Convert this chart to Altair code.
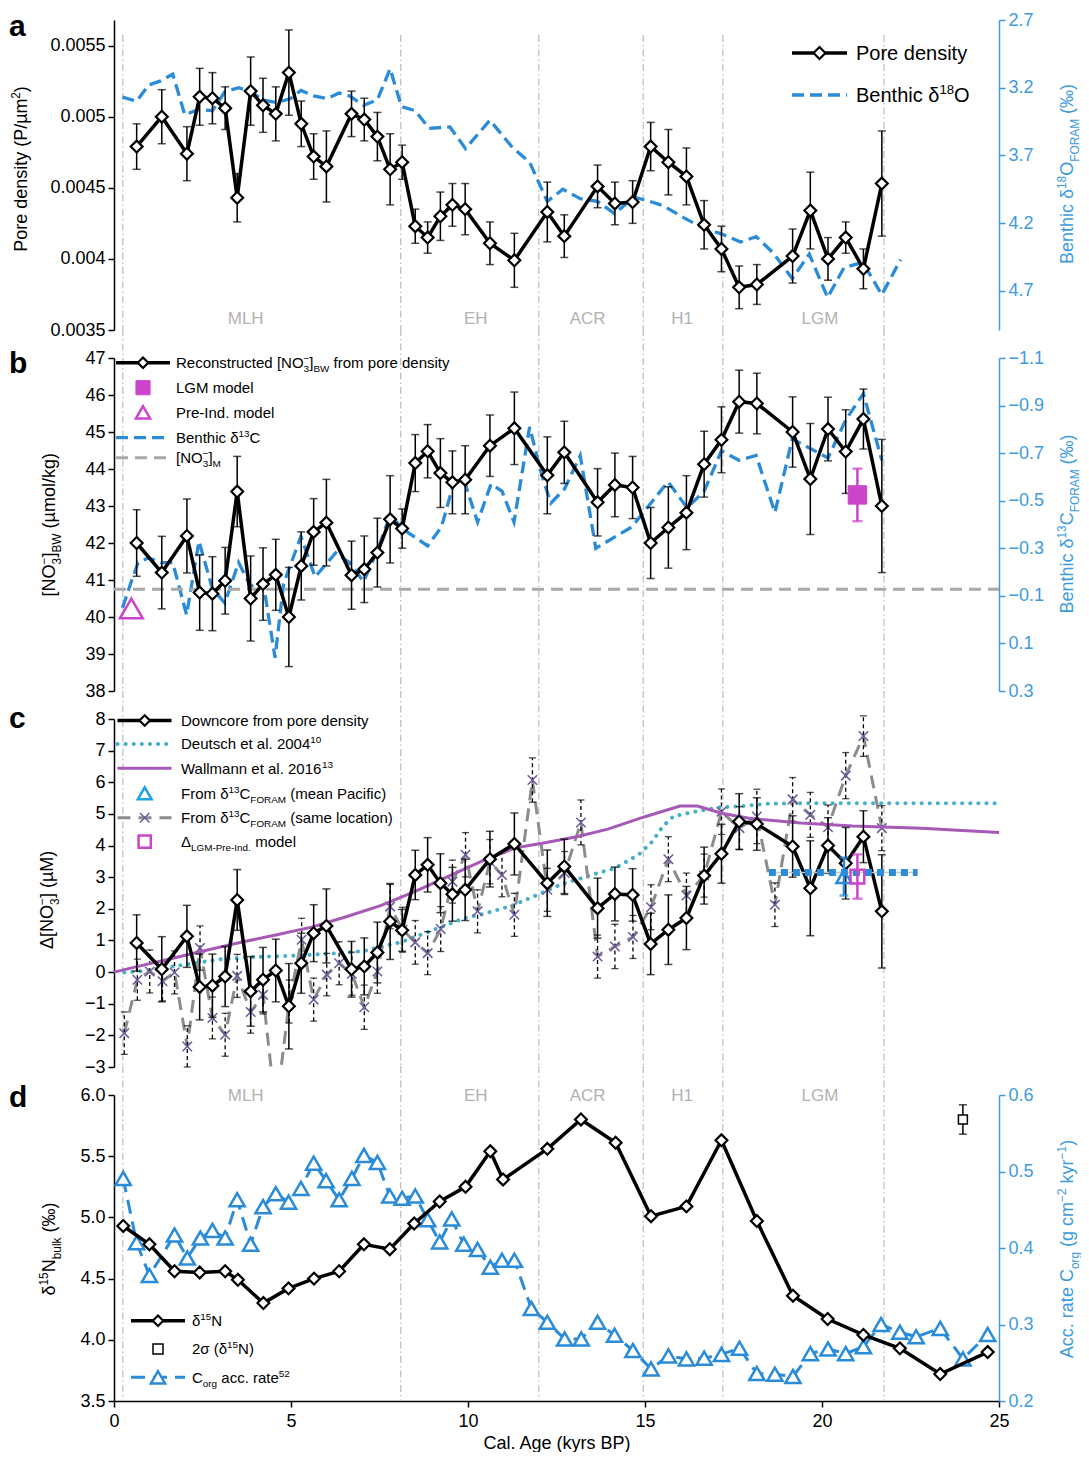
import altair as alt
import pandas as pd

FONT = "Liberation Sans"

# ---------------- Panel a ----------------
ages = [0.64, 1.35, 2.06, 2.42, 2.78, 3.14, 3.48, 3.86, 4.21, 4.57,
        4.94, 5.29, 5.64, 6.00, 6.71, 7.07, 7.44, 7.80, 8.14, 8.51,
        8.86, 9.22, 9.56, 9.92, 10.62, 11.31, 12.24, 12.72, 13.66, 14.15,
        14.65, 15.16, 15.66, 16.17, 16.67, 17.16, 17.66, 18.16, 19.17, 19.67,
        20.17, 20.67, 21.17, 21.69]
pore_density = [0.00479, 0.00500, 0.00474, 0.00514, 0.00513, 0.00506, 0.00443, 0.00518, 0.00508, 0.00502,
                0.00531, 0.00495, 0.00472, 0.00465, 0.00502, 0.00498, 0.00486, 0.00463, 0.00468, 0.00423,
                0.00415, 0.00430, 0.00438, 0.00435, 0.00411, 0.00399, 0.00433, 0.00416, 0.00451, 0.00439,
                0.00440, 0.00479, 0.00468, 0.00458, 0.00424, 0.00407, 0.00380, 0.00382, 0.00402, 0.00434,
                0.00400, 0.00415, 0.00393, 0.00453]
pore_density_err = [0.00016, 0.00019, 0.00019, 0.00020, 0.00018, 0.00015, 0.00017, 0.00024, 0.00019, 0.00019,
                    0.00030, 0.00016, 0.00016, 0.00025, 0.00016, 0.00015, 0.00017, 0.00025, 0.00012, 0.00012,
                    0.00011, 0.00017, 0.00015, 0.00018, 0.00015, 0.00019, 0.00021, 0.00015, 0.00015, 0.00015,
                    0.00015, 0.00017, 0.00023, 0.00020, 0.00017, 0.00016, 0.00015, 0.00014, 0.00019, 0.00027,
                    0.00015, 0.00011, 0.00014, 0.00037]
d18o_age = [0.24, 0.64, 0.98, 1.32, 1.66, 2.0, 2.40, 2.78, 3.13, 3.52,
            3.87, 4.21, 4.60, 4.99, 5.28, 5.64, 6.02, 6.36, 6.65, 7.05,
            7.44, 7.80, 8.12, 8.51, 8.90, 9.49, 9.93, 10.62, 11.25, 11.74,
            12.24, 12.68, 13.17, 13.66, 14.14, 14.68, 15.02, 15.5, 16.09, 16.67,
            17.16, 17.7, 18.14, 18.62, 19.16, 19.64, 20.16, 20.62, 21.15, 21.69,
            22.22]
d18o = [3.27, 3.30, 3.18, 3.15, 3.10, 3.40, 3.36, 3.37, 3.23, 3.20,
        3.23, 3.29, 3.31, 3.28, 3.22, 3.26, 3.28, 3.24, 3.26, 3.33,
        3.29, 3.06, 3.34, 3.37, 3.50, 3.49, 3.65, 3.44, 3.64, 3.75,
        4.04, 3.95, 4.02, 4.04, 4.13, 4.01, 4.03, 4.07, 4.16, 4.24,
        4.28, 4.34, 4.30, 4.42, 4.61, 4.43, 4.75, 4.53, 4.49, 4.73,
        4.47]

# ---------------- Panel b ----------------
no3_bw = [42.0, 41.2, 42.19, 40.66, 40.63, 40.98, 43.39, 40.50, 40.89, 41.14,
          40.0, 41.38, 42.30, 42.55, 41.13, 41.29, 41.74, 42.64, 42.39, 44.16,
          44.48, 43.89, 43.64, 43.71, 44.63, 45.10, 43.83, 44.45, 43.10, 43.57,
          43.50, 42.0, 42.42, 42.82, 44.13, 44.79, 45.82, 45.77, 45.0, 43.73,
          45.08, 44.47, 45.35, 43.0]
no3_bw_err = [0.9, 0.98, 1.0, 1.02, 1.0, 0.9, 0.95, 1.15, 0.98, 0.96,
              1.34, 0.92, 0.9, 1.17, 0.92, 0.9, 0.93, 1.18, 0.53, 0.77,
              0.72, 0.93, 0.85, 0.92, 0.83, 0.98, 1.04, 0.84, 0.91, 0.86,
              0.84, 0.96, 1.1, 1.0, 0.89, 0.89, 0.85, 0.82, 0.95, 1.5,
              0.86, 1.13, 0.81, 1.8]
d13c_age = [0.24, 0.49, 0.68, 0.98, 1.32, 1.66, 2.05, 2.40, 2.78, 3.13,
            3.52, 3.86, 4.21, 4.55, 4.79, 5.28, 5.68, 6.26, 6.65, 7.05,
            7.44, 7.80, 8.17, 8.86, 9.25, 9.59, 9.88, 10.27, 10.65, 10.96,
            11.30, 11.74, 12.08, 12.34, 12.73, 13.17, 13.61, 14.63, 15.65, 16.19,
            16.67, 17.16, 17.65, 18.14, 18.67, 19.16, 20.17, 20.67, 21.17, 21.69]
d13c = [-0.05, -0.16, -0.24, -0.26, -0.24, -0.24, -0.02, -0.33, -0.13, -0.07,
        -0.24, -0.14, -0.16, 0.16, -0.15, -0.35, -0.18, -0.28, -0.24, -0.16,
        -0.29, -0.44, -0.38, -0.31, -0.39, -0.57, -0.59, -0.41, -0.57, -0.54,
        -0.41, -0.81, -0.61, -0.49, -0.55, -0.69, -0.30, -0.39, -0.58, -0.47,
        -0.54, -0.71, -0.67, -0.69, -0.45, -0.76, -0.68, -0.84, -0.95, -0.67]
lgm_model_age = [21.0]
lgm_model = [43.3]
lgm_model_err = [0.71]
preind_model_age = [0.49]
preind_model = [40.23]
no3_m_age = [0.0, 25.0]
no3_m = [40.75, 40.75]

# ---------------- Panel c ----------------
dno3 = [0.92, 0.09, 1.13, -0.47, -0.43, -0.14, 2.28, -0.61, -0.24, 0.05,
        -1.08, 0.28, 1.23, 1.46, 0.09, 0.18, 0.62, 1.6, 1.32, 3.07,
        3.39, 2.81, 2.46, 2.6, 3.57, 4.05, 2.81, 3.34, 2.02, 2.47,
        2.44, 0.89, 1.34, 1.71, 3.05, 3.74, 4.76, 4.68, 3.97, 2.65,
        4.0, 3.44, 4.28, 1.92]
dno3_err = [0.89, 1.03, 0.98, 1.04, 1.0, 0.95, 0.96, 1.1, 1.02, 0.99,
            1.35, 0.95, 0.9, 1.17, 0.88, 0.9, 0.96, 1.2, 0.66, 0.78,
            0.86, 0.93, 0.85, 0.97, 0.88, 0.98, 1.05, 0.86, 0.95, 0.85,
            0.83, 0.97, 1.1, 1.0, 0.9, 0.93, 0.88, 0.83, 0.97, 1.5,
            0.88, 1.13, 0.82, 1.79]
same_loc_age = [0.29, 0.66, 1.01, 1.37, 1.71, 2.07, 2.43, 2.78, 3.14, 3.48,
                3.86, 4.21, 4.57, 4.95, 5.30, 5.64, 6.01, 6.36, 6.72, 7.07,
                7.44, 7.80, 8.15, 8.51, 8.86, 9.23, 9.56, 9.93, 10.27, 10.62,
                10.96, 11.31, 11.82, 12.24, 12.73, 13.19, 13.66, 14.15, 14.66, 15.17,
                15.66, 16.17, 16.67, 17.16, 17.67, 18.16, 18.67, 19.17, 19.67, 20.17,
                20.67, 21.17, 21.69]
same_loc = [-1.93, -0.24, 0.02, -0.29, -0.01, -2.35, 0.76, -1.45, -1.98, -0.12,
            -1.26, -0.72, -4.4, -0.93, 1.02, -0.87, -0.08, 0.28, -0.05, -1.11,
            0.02, 2.07, 1.34, 0.94, 0.6, 1.36, 2.86, 3.71, 1.92, 3.49,
            3.07, 1.81, 6.07, 2.6, 3.13, 4.73, 0.49, 0.81, 1.11, 2.05,
            3.57, 2.42, 3.05, 5.07, 4.55, 4.92, 2.13, 5.46, 4.97, 4.58,
            6.21, 7.46, 4.55]
same_loc_err = [0.67, 0.65, 0.68, 0.62, 0.68, 0.65, 0.7, 0.66, 0.68, 0.68,
                0.67, 0.6, 0.65, 0.68, 0.68, 0.68, 0.67, 0.68, 0.68, 0.7,
                0.69, 0.7, 0.71, 0.69, 0.68, 0.71, 0.68, 0.7, 0.68, 0.7,
                0.69, 0.68, 0.7, 0.68, 0.68, 0.71, 0.68, 0.7, 0.68, 0.71,
                0.71, 0.71, 0.68, 0.72, 0.68, 0.86, 0.69, 0.69, 0.71, 0.7,
                0.73, 0.64, 0.71]
deutsch_age = [0.29, 0.98, 1.66, 2.25, 3.03, 3.82, 5.09, 6.07, 7.05, 7.53,
               8.12, 8.71, 9.3, 9.88, 10.47, 11.25, 12.08, 12.68, 13.07, 13.66,
               14.14, 14.82, 15.21, 15.5, 15.8, 16.19, 16.67, 17.16, 17.75, 18.43,
               19.4, 25.0]
deutsch = [-0.01, 0.05, 0.18, 0.28, 0.41, 0.47, 0.52, 0.58, 0.66, 0.8,
           0.95, 1.2, 1.45, 1.7, 1.85, 2.1, 2.5, 2.8, 2.92, 3.13,
           3.28, 3.71, 4.13, 4.6, 4.92, 5.02, 5.13, 5.21, 5.25, 5.32,
           5.34, 5.34]
wallmann_age = [0.0, 0.68, 1.66, 2.64, 3.62, 4.6, 5.58, 6.56, 7.53, 8.51,
                9.49, 10.47, 11.31, 12.1, 13.07, 13.95, 15.02, 15.99, 16.48, 17.16,
                17.94, 19.4, 20.86, 22.81, 25.0]
wallmann = [0.0, 0.18, 0.44, 0.7, 0.95, 1.18, 1.42, 1.75, 2.1, 2.55,
            3.05, 3.55, 3.92, 4.07, 4.28, 4.52, 4.92, 5.25, 5.25, 5.02,
            4.86, 4.71, 4.62, 4.55, 4.41]
pacific_age = [18.5, 22.7]
pacific = [3.15, 3.15]
pacific_pt_age = [20.62]
pacific_pt = [3.02]
pacific_pt_err = [0.6]
delta_model_age = [21.0]
delta_model = [3.02]
delta_model_err = [0.7]

# ---------------- Panel d ----------------
d15n_age = [0.26, 1.0, 1.71, 2.42, 3.14, 3.50, 4.22, 4.93, 5.65, 6.36,
            7.06, 7.79, 8.48, 9.20, 9.93, 10.63, 10.99, 12.24, 13.19, 14.17,
            15.17, 16.17, 17.16, 18.16, 19.18, 20.16, 21.17, 22.2, 23.34, 24.68]
d15n = [4.93, 4.78, 4.56, 4.55, 4.56, 4.49, 4.30, 4.42, 4.50, 4.56,
        4.78, 4.74, 4.95, 5.13, 5.25, 5.54, 5.31, 5.56, 5.80, 5.61,
        5.01, 5.09, 5.63, 4.97, 4.36, 4.17, 4.04, 3.93, 3.72, 3.90]
sigma_age = [23.98]
sigma_val = [5.80]
sigma_err = [0.12]
corg_age = [0.26, 0.64, 1.0, 1.71, 2.07, 2.44, 2.78, 3.14, 3.48, 3.86,
            4.21, 4.57, 4.93, 5.28, 5.64, 5.99, 6.36, 6.72, 7.06, 7.44,
            7.79, 8.14, 8.51, 8.86, 9.20, 9.54, 9.88, 10.27, 10.63, 10.96,
            11.31, 11.79, 12.24, 12.73, 13.2, 13.66, 14.14, 14.66, 15.17, 15.66,
            16.17, 16.67, 17.16, 17.67, 18.16, 18.67, 19.18, 19.67, 20.17, 20.67,
            21.17, 21.67, 22.2, 22.66, 23.34, 23.98, 24.68]
corg = [0.491, 0.407, 0.364, 0.417, 0.387, 0.413, 0.423, 0.413, 0.463, 0.405,
        0.454, 0.471, 0.460, 0.478, 0.511, 0.488, 0.463, 0.491, 0.521, 0.512,
        0.468, 0.465, 0.468, 0.437, 0.408, 0.438, 0.405, 0.398, 0.375, 0.384,
        0.384, 0.321, 0.303, 0.281, 0.281, 0.303, 0.286, 0.266, 0.242, 0.259,
        0.255, 0.256, 0.261, 0.269, 0.236, 0.235, 0.232, 0.262, 0.268, 0.262,
        0.271, 0.300, 0.290, 0.284, 0.295, 0.255, 0.287]

# ---------------- periods ----------------
boundary_age = [0.25, 8.1, 12.0, 14.95, 17.2, 21.75]
period_names = ["MLH", "EH", "ACR", "H1", "LGM"]
period_age = [3.72, 10.22, 13.38, 16.05, 19.94]

# ---------------- style ----------------
W = 885
RT = W + 68          # centre of the right-hand rotated titles
H_A, H_B, H_C, H_D = 310, 333, 348, 306
BLUE = "#2a8bd8"
BLUE_AX = "#3d9be0"
TEAL = "#45b0ca"
PURPLE = "#a659b6"
MAGENTA = "#cc44cc"
XPURPLE = "#6e5a9c"
GRAY_DASH = "#8c8c8c"
GRAY_M = "#a9a9a9"
GRAY_LAB = "#b2b2b2"
VLINE = "#bdbdbd"
XSHAPE = "M-1,-1L1,1M-1,1L1,-1"

ONE = pd.DataFrame({"k": [0]})
XS = alt.Scale(domain=[0, 25], nice=False, zero=False)

YA = alt.Scale(domain=[0.0035, 0.00568], nice=False, zero=False)
YA2 = alt.Scale(domain=[2.7, 4.99], nice=False, zero=False, reverse=True)
YB = alt.Scale(domain=[38, 47], nice=False, zero=False)
YB2 = alt.Scale(domain=[-1.1, 0.3], nice=False, zero=False, reverse=True)
YC = alt.Scale(domain=[-3, 8], nice=False, zero=False)
YD = alt.Scale(domain=[3.5, 6.0], nice=False, zero=False)
YD2 = alt.Scale(domain=[0.2, 0.6], nice=False, zero=False)

AFM = {' ': 278, '(': 333, ')': 333, '[': 278, ']': 278, '.': 278, ',': 278, '-': 333, '/': 278,
       'A': 667, 'B': 667, 'C': 722, 'D': 722, 'E': 667, 'F': 611, 'G': 778, 'H': 722, 'I': 278,
       'J': 500, 'K': 667, 'L': 556, 'M': 833, 'N': 722, 'O': 778, 'P': 667, 'Q': 778, 'R': 722,
       'S': 667, 'T': 611, 'U': 722, 'V': 667, 'W': 944, 'X': 667, 'Y': 667, 'Z': 611,
       'a': 556, 'b': 556, 'c': 500, 'd': 556, 'e': 556, 'f': 278, 'g': 556, 'h': 556, 'i': 222,
       'j': 222, 'k': 500, 'l': 222, 'm': 833, 'n': 556, 'o': 556, 'p': 556, 'q': 556, 'r': 333,
       's': 500, 't': 278, 'u': 556, 'v': 500, 'w': 722, 'x': 500, 'y': 500, 'z': 500,
       'µ': 556, 'δ': 556, 'Δ': 667, 'σ': 617, '‰': 1000, '−': 584}


def tw(s, fs):
    return sum(AFM.get(c, 556) for c in s) * fs / 1000.0


def rich(pieces, x, y, fs, color="black", rotate=False, center=False, small=0.66):
    items = []
    pos = 0.0

    def add(s, shift, size):
        lead = len(s) - len(s.lstrip(" "))
        body = s.strip(" ")
        if body:
            items.append((body, pos + tw(" " * lead, size), shift, size))

    for s, kind in pieces:
        if kind == "n":
            add(s, 0.0, fs)
            pos += tw(s, fs)
        elif kind == "sub":
            add(s, 0.3 * fs, fs * small)
            pos += tw(s, fs * small)
        elif kind == "sup":
            add(s, -0.4 * fs, fs * small)
            pos += tw(s, fs * small)
        else:
            a, b = s
            add(a, 0.3 * fs, fs * small)
            add(b, -0.4 * fs, fs * small)
            pos += max(tw(a, fs * small), tw(b, fs * small))
    start = -pos / 2.0 if center else 0.0
    out = []
    for s, along, shift, size in items:
        if rotate:
            px, py, ang = x + shift, y - (start + along), 270
        else:
            px, py, ang = x + start + along, y + shift, 0
        out.append(alt.Chart(ONE).mark_text(text=s, x=px, y=py, fontSize=size, color=color, font=FONT,
                                            align="left", baseline="alphabetic", angle=ang))
    return out


def vtitle(pieces, cx, cy, color="black", fs=18):
    return rich(pieces, cx + 0.36 * fs, cy, fs, color=color, rotate=True, center=True)


def legend_text(pieces, x, cy, fs=15):
    return rich(pieces, x, cy + 0.35 * fs, fs)


def letter(s, y):
    return alt.Chart(ONE).mark_text(text=s, x=-105, y=y, fontSize=30, fontWeight="bold", font=FONT,
                                    align="left", baseline="alphabetic", color="black")


def ax(orient, values, fmt, color="black"):
    return alt.Axis(orient=orient, values=values, format=fmt, title=None, grid=False,
                    domainColor=color, tickColor=color, labelColor=color, labelFont=FONT,
                    labelFontSize=18, tickSize=6, domainWidth=1.5, tickWidth=1.5, labelPadding=3,
                    labelFlush=False)


def df_of(t, v, e=None):
    d = pd.DataFrame({"t": t, "v": v})
    if e is not None:
        d["lo"] = [a - b for a, b in zip(v, e)]
        d["hi"] = [a + b for a, b in zip(v, e)]
    return d


class Panel:
    """holds the x axis (or None) shared by every layer of one panel"""
    def __init__(self, xa=None):
        self.xa = xa

    def X(self):
        return alt.X("t:Q", scale=XS, axis=self.xa)

    def line(self, df, ys, ya, color, width, dash=None, clip=False, cap="butt"):
        kw = dict(color=color, strokeWidth=width, clip=clip, strokeCap=cap)
        if dash:
            kw["strokeDash"] = dash
        return alt.Chart(df).mark_line(**kw).encode(x=self.X(), y=alt.Y("v:Q", scale=ys, axis=ya))

    def pts(self, df, ys, ya, shape, size, stroke, fill=None, sw=2.2):
        kw = dict(shape=shape, size=size, stroke=stroke, strokeWidth=sw, opacity=1)
        if fill:
            kw.update(filled=True, fill=fill)
        else:
            kw.update(filled=False)
        return alt.Chart(df).mark_point(**kw).encode(x=self.X(), y=alt.Y("v:Q", scale=ys, axis=ya))

    def ebar(self, df, ys, ya, color="black", dash=None, size=8, thick=1.5):
        rule = {"strokeDash": dash} if dash else True
        return alt.Chart(df).mark_errorbar(ticks=True, rule=rule, size=size, thickness=thick,
                                           color=color).encode(
            x=self.X(), y=alt.Y("lo:Q", scale=ys, axis=ya), y2="hi:Q")

    def vlines(self, top, bottom):
        return alt.Chart(df_bound).mark_rule(color=VLINE, strokeWidth=1.2, strokeDash=[7, 3, 1.5, 3]).encode(
            x=self.X(), y=alt.value(top), y2=alt.value(bottom))

    def period_labels(self, y):
        return alt.Chart(df_per).mark_text(font=FONT, fontSize=17, color=GRAY_LAB, baseline="middle",
                                           align="center").encode(x=self.X(), y=alt.value(y), text="name:N")


def lg_rule(x1, x2, y, color, width, dash=None, cap="butt"):
    kw = dict(color=color, strokeWidth=width, strokeCap=cap)
    if dash:
        kw["strokeDash"] = dash
    return alt.Chart(ONE).mark_rule(**kw).encode(x=alt.value(x1), x2=alt.value(x2), y=alt.value(y))


def lg_pt(x, y, shape, size, stroke, fill=None, sw=2.2):
    kw = dict(shape=shape, size=size, stroke=stroke, strokeWidth=sw, opacity=1)
    if fill:
        kw.update(filled=True, fill=fill)
    else:
        kw.update(filled=False)
    return alt.Chart(ONE).mark_point(**kw).encode(x=alt.value(x), y=alt.value(y))


df_bound = pd.DataFrame({"t": boundary_age})
df_per = pd.DataFrame({"t": period_age, "name": period_names})

NO3 = [("[NO", "n"), (("3", "−"), "ss"), ("]", "n")]

# ================= Panel a =================
P = Panel()
df_pd = df_of(ages, pore_density, pore_density_err)
df_d18 = df_of(d18o_age, d18o)
AX_A = ax("left", [0.0035, 0.004, 0.0045, 0.005, 0.0055], "~g")
AX_A2 = ax("right", [2.7, 3.2, 3.7, 4.2, 4.7], ".1f", BLUE_AX)

right_a = alt.layer(
    P.vlines(15, H_A), P.period_labels(299),
    P.line(df_d18, YA2, AX_A2, BLUE, 3.3, dash=[12, 6]),
)
left_a = alt.layer(
    P.ebar(df_pd, YA, AX_A),
    P.line(df_pd, YA, AX_A, "black", 3.5),
    P.pts(df_pd, YA, AX_A, "diamond", 140, "black", fill="white"),
    lg_rule(678, 733, 33, "black", 3.5), lg_pt(705.5, 33, "diamond", 140, "black", fill="white"),
    *legend_text([("Pore density", "n")], 742, 33, fs=20),
    lg_rule(678, 733, 75, BLUE, 3.5, dash=[12, 6]),
    *legend_text([("Benthic δ", "n"), ("18", "sup"), ("O", "n")], 742, 75, fs=20),
    *vtitle([("Pore density (P/µm", "n"), ("2", "sup"), (")", "n")], -93, 149),
    *vtitle([("Benthic δ", "n"), ("18", "sup"), ("O", "n"), ("FORAM", "sub"), (" (‰)", "n")],
            RT, 154, color=BLUE_AX),
    letter("a", 16),
)
panel_a = alt.layer(right_a, left_a).resolve_scale(y="independent").properties(width=W, height=H_A)

# ================= Panel b =================
df_no3 = df_of(ages, no3_bw, no3_bw_err)
df_d13 = df_of(d13c_age, d13c)
df_lgm = df_of(lgm_model_age, lgm_model, lgm_model_err)
df_pi = df_of(preind_model_age, preind_model)
df_nm = df_of(no3_m_age, no3_m)
AX_B = ax("left", list(range(38, 48)), "d")
AX_B2 = ax("right", [-1.1, -0.9, -0.7, -0.5, -0.3, -0.1, 0.1, 0.3], ".1f", BLUE_AX)

right_b = alt.layer(
    P.vlines(-29, H_B),
    P.line(df_d13, YB2, AX_B2, BLUE, 3.3, dash=[12, 6]),
)
left_b = alt.layer(
    P.line(df_nm, YB, AX_B, GRAY_M, 3, dash=[12, 7]),
    P.ebar(df_no3, YB, AX_B),
    P.line(df_no3, YB, AX_B, "black", 3.5),
    P.pts(df_no3, YB, AX_B, "diamond", 140, "black", fill="white"),
    P.ebar(df_lgm, YB, AX_B, color=MAGENTA, size=10, thick=2.5),
    P.pts(df_lgm, YB, AX_B, "square", 340, MAGENTA, fill=MAGENTA, sw=1),
    P.pts(df_pi, YB, AX_B, "triangle-up", 520, MAGENTA, sw=2.5),
    lg_rule(2, 56, 4.7, "black", 3.5), lg_pt(29, 4.7, "diamond", 110, "black", fill="white"),
    *legend_text([("Reconstructed ", "n")] + NO3 + [("BW", "sub"), (" from pore density", "n")], 62, 4.7),
    lg_pt(29, 29.7, "square", 200, MAGENTA, fill=MAGENTA, sw=1),
    *legend_text([("LGM model", "n")], 62, 29.7),
    lg_pt(29, 54.3, "triangle-up", 200, MAGENTA, sw=2.5),
    *legend_text([("Pre-Ind. model", "n")], 62, 54.3),
    lg_rule(2, 56, 79.7, BLUE, 3.3, dash=[12, 6]),
    *legend_text([("Benthic δ", "n"), ("13", "sup"), ("C", "n")], 62, 79.7),
    lg_rule(2, 56, 99.7, GRAY_M, 3, dash=[12, 7]),
    *legend_text(NO3 + [("M", "sub")], 62, 99.7),
    *vtitle(NO3 + [("BW", "sub"), (" (µmol/kg)", "n")], -65, 167),
    *vtitle([("Benthic δ", "n"), ("13", "sup"), ("C", "n"), ("FORAM", "sub"), (" (‰)", "n")],
            RT, 166, color=BLUE_AX),
    letter("b", 15),
)
panel_b = alt.layer(right_b, left_b).resolve_scale(y="independent").properties(width=W, height=H_B)

# ================= Panel c =================
df_dno3 = df_of(ages, dno3, dno3_err)
df_sl = df_of(same_loc_age, same_loc, same_loc_err)
df_sl_vis = df_sl[df_sl["v"] >= -3].reset_index(drop=True)
df_de = df_of(deutsch_age, deutsch)
df_wa = df_of(wallmann_age, wallmann)
df_pac = df_of(pacific_age, pacific)
df_pacpt = df_of(pacific_pt_age, pacific_pt, pacific_pt_err)
df_md = df_of(delta_model_age, delta_model, delta_model_err)
AX_C = ax("left", list(range(-3, 9)), "d")

panel_c = alt.layer(
    P.vlines(-28, H_C),
    P.line(df_de, YC, AX_C, TEAL, 4, dash=[0.1, 8], cap="round"),
    P.line(df_sl, YC, AX_C, GRAY_DASH, 3, dash=[13, 8], clip=True),
    P.ebar(df_sl_vis, YC, AX_C, dash=[4, 3], size=7, thick=1.3),
    P.pts(df_sl_vis, YC, AX_C, XSHAPE, 90, XPURPLE, sw=1.5),
    P.line(df_wa, YC, AX_C, PURPLE, 3),
    P.ebar(df_dno3, YC, AX_C),
    P.line(df_dno3, YC, AX_C, "black", 3.5),
    P.pts(df_dno3, YC, AX_C, "diamond", 140, "black", fill="white"),
    P.line(df_pac, YC, AX_C, "#c8c8c8", 1.5),
    P.line(df_pac, YC, AX_C, BLUE, 7, dash=[7, 5]),
    P.ebar(df_pacpt, YC, AX_C, color=BLUE, size=9, thick=2.5),
    P.pts(df_pacpt, YC, AX_C, "triangle-up", 230, BLUE, sw=2.5),
    P.ebar(df_md, YC, AX_C, color=MAGENTA, size=10, thick=2.5),
    P.pts(df_md, YC, AX_C, "square", 190, MAGENTA, sw=2.5),
    lg_rule(3.5, 57.5, 1.5, "black", 3.5), lg_pt(30.7, 1.5, "diamond", 110, "black", fill="white"),
    *legend_text([("Downcore from pore density", "n")], 67, 1.5),
    lg_rule(3.5, 54, 25, TEAL, 4, dash=[0.1, 8], cap="round"),
    *legend_text([("Deutsch et al. 2004", "n"), ("10", "sup")], 67, 25),
    lg_rule(3.5, 57.5, 49.3, PURPLE, 3),
    *legend_text([("Wallmann et al. 2016", "n"), ("13", "sup")], 67, 49.3),
    lg_pt(30.7, 74.3, "triangle-up", 190, "#1aa3e8", sw=2.5),
    *legend_text([("From δ", "n"), ("13", "sup"), ("C", "n"), ("FORAM", "sub"), (" (mean Pacific)", "n")], 67, 74.3),
    lg_rule(3.5, 57.5, 98.7, GRAY_DASH, 3, dash=[13, 8]),
    lg_pt(30.7, 98.7, XSHAPE, 90, XPURPLE, sw=1.5),
    *legend_text([("From δ", "n"), ("13", "sup"), ("C", "n"), ("FORAM", "sub"), (" (same location)", "n")], 67, 98.7),
    lg_pt(30.7, 122.7, "square", 150, MAGENTA, sw=2.5),
    *legend_text([("Δ", "n"), ("LGM-Pre-Ind.", "sub"), (" model", "n")], 67, 122.7),
    *vtitle([("Δ", "n")] + NO3 + [(" (µM)", "n")], -67, 181),
    letter("c", 9),
).properties(width=W, height=H_C)

# ================= Panel d =================
AX_X = alt.Axis(orient="bottom", values=[0, 5, 10, 15, 20, 25], format="d", title="Cal. Age (kyrs BP)",
                titleFont=FONT, titleFontSize=18, titleFontWeight="normal", titleColor="black",
                titlePadding=4, labelFont=FONT, labelFontSize=18, labelColor="black", labelPadding=5,
                tickSize=6, tickWidth=1.5, tickColor="black", domainWidth=1.5, domainColor="black",
                grid=False, labelFlush=False)
Q = Panel(AX_X)
df_n15 = df_of(d15n_age, d15n)
df_sig = df_of(sigma_age, sigma_val, sigma_err)
df_co = df_of(corg_age, corg)
AX_D = ax("left", [3.5, 4.0, 4.5, 5.0, 5.5, 6.0], ".1f")
AX_D2 = ax("right", [0.2, 0.3, 0.4, 0.5, 0.6], ".1f", BLUE_AX)

right_d = alt.layer(
    Q.vlines(-29, H_D), Q.period_labels(1),
    Q.line(df_co, YD2, AX_D2, BLUE, 3, dash=[14, 8]),
    Q.pts(df_co, YD2, AX_D2, "triangle-up", 230, BLUE, fill="white", sw=2.5),
)
left_d = alt.layer(
    Q.line(df_n15, YD, AX_D, "black", 3.5),
    Q.pts(df_n15, YD, AX_D, "diamond", 140, "black", fill="white"),
    Q.ebar(df_sig, YD, AX_D, size=8, thick=1.5),
    Q.pts(df_sig, YD, AX_D, "square", 80, "black", fill="white", sw=1.5),
    lg_rule(17, 71, 225.7, "black", 3.5), lg_pt(44, 225.7, "diamond", 110, "black", fill="white"),
    *legend_text([("δ", "n"), ("15", "sup"), ("N", "n")], 78, 225.7),
    lg_pt(44, 254, "square", 100, "black", sw=1.5),
    *legend_text([("2σ (δ", "n"), ("15", "sup"), ("N)", "n")], 78, 254),
    lg_rule(17, 71, 282.3, BLUE, 3, dash=[14, 8]),
    lg_pt(44, 282.3, "triangle-up", 200, BLUE, fill="white", sw=2.5),
    *legend_text([("C", "n"), ("org", "sub"), (" acc. rate", "n"), ("52", "sup")], 78, 282.3),
    *vtitle([("δ", "n"), ("15", "sup"), ("N", "n"), ("bulk", "sub"), (" (‰)", "n")], -65, 154),
    *vtitle([("Acc. rate C", "n"), ("org", "sub"), (" (g cm", "n"), ("−2", "sup"), (" kyr", "n"),
             ("−1", "sup"), (")", "n")], RT, 154, color=BLUE_AX),
    letter("d", 12),
)
panel_d = alt.layer(right_d, left_d).resolve_scale(y="independent").properties(width=W, height=H_D)

chart = alt.vconcat(panel_a, panel_b, panel_c, panel_d, spacing=28, bounds="flush").properties(
    padding={"left": 1, "top": 3, "right": 0, "bottom": 0}
).configure(font=FONT).configure_view(stroke=None)

chart.save("out.html", embed_options={"renderer": "svg", "actions": False})
